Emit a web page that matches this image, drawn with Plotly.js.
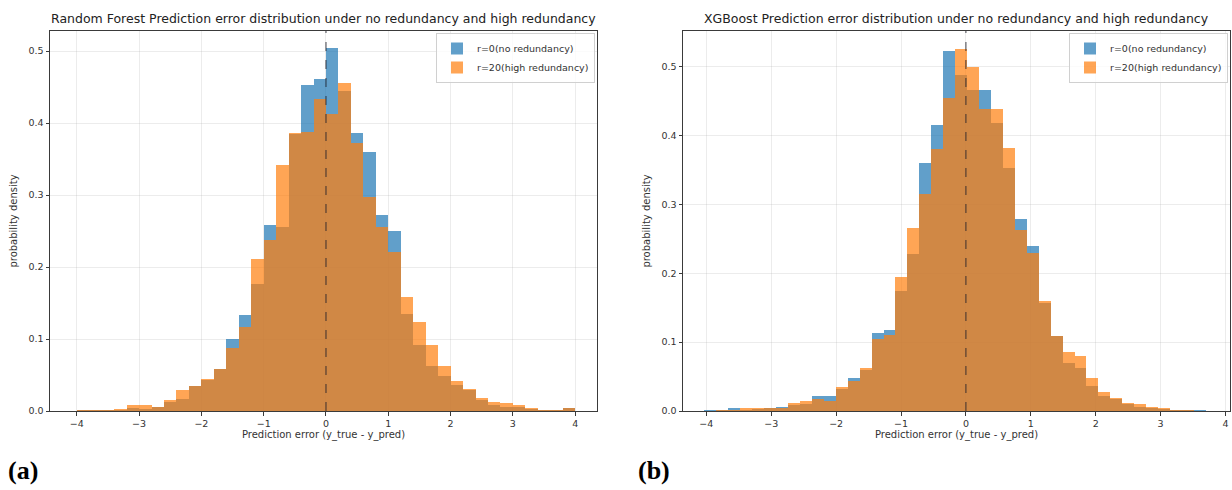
<!DOCTYPE html>
<html>
<head>
<meta charset="utf-8">
<script src="https://cdn.plot.ly/plotly-3.0.1.min.js"></script>
<style>html,body{margin:0;padding:0;background:#fff;}#chart{width:1232px;height:490px;}</style>
</head>
<body>
<div id="chart"></div>
<script>
// ---- Random Forest (left) : shared bins, width 0.2 from -4.0 ----
const rfBinStart = -4.0;
const rfBinWidth = 0.2;
const rfNoRed = [0.002,0.001,0.001,0.002,0.004,0.003,0.005,0.013,0.016,0.035,
                 0.043,0.059,0.100,0.133,0.176,0.258,0.256,0.385,0.453,0.461,
                 0.504,0.445,0.386,0.360,0.272,0.250,0.135,0.092,0.062,0.048,
                 0.036,0.029,0.015,0.008,0.006,0.005,0.003,0.002,0.002,0.004];
const rfHighRed = [0.002,0.001,0.001,0.003,0.009,0.009,0.005,0.015,0.029,0.035,
                   0.045,0.059,0.087,0.117,0.211,0.238,0.342,0.386,0.388,0.434,
                   0.412,0.456,0.372,0.298,0.256,0.221,0.159,0.124,0.092,0.062,
                   0.041,0.031,0.018,0.013,0.011,0.008,0.004,0.001,0.001,0.004];

// ---- XGBoost (right) : bins width 0.184 from -4.03 ----
const xgbBinStart = -4.03;
const xgbBinWidth = 0.184;
const xgbNoRed = [0.001,0.001,0.004,0.001,0.003,0.005,0.006,0.008,0.010,0.022,
                  0.022,0.032,0.048,0.060,0.113,0.117,0.175,0.228,0.360,0.415,
                  0.523,0.488,0.466,0.466,0.418,0.353,0.279,0.240,0.157,0.109,
                  0.070,0.063,0.036,0.022,0.017,0.010,0.006,0.005,0.003,0.002,
                  0.001,0.001];
const xgbHighRed = [0.000,0.001,0.002,0.004,0.005,0.005,0.005,0.011,0.015,0.017,
                    0.015,0.035,0.043,0.063,0.105,0.110,0.195,0.266,0.315,0.380,
                    0.455,0.526,0.500,0.438,0.438,0.382,0.263,0.229,0.160,0.109,
                    0.085,0.080,0.048,0.027,0.019,0.012,0.010,0.006,0.005,0.002,
                    0.001,0.000];

const xTicks = [-4,-3,-2,-1,0,1,2,3,4];
const xTickText = ['\u22124','\u22123','\u22122','\u22121','0','1','2','3','4'];
const yTicks = [0,0.1,0.2,0.3,0.4,0.5];
const seriesNames = ['r=0(no redundancy)','r=20(high redundancy)'];
const titles = ['Random Forest Prediction error distribution under no redundancy and high redundancy',
                'XGBoost Prediction error distribution under no redundancy and high redundancy'];
const xLabel = 'Prediction error (y_true - y_pred)';
const yLabel = 'probability density';
const panelLabels = ['(a)','(b)'];

function centers(start, w, n){ const c=[]; for(let i=0;i<n;i++) c.push(start + w*(i+0.5)); return c; }

const BLUE = '#1f77b4', ORANGE = '#ff7f0e';
function barTrace(vals, start, w, name, color, xa, ya, leg, show){
  return {type:'bar', x:centers(start,w,vals.length), y:vals, width:w, name:name,
          marker:{color:color, line:{width:0}}, opacity:0.7, xaxis:xa, yaxis:ya,
          legend:leg, showlegend:show, hoverinfo:'x+y'};
}
const data = [
  barTrace(rfNoRed, rfBinStart, rfBinWidth, seriesNames[0], BLUE, 'x','y','legend',true),
  barTrace(rfHighRed, rfBinStart, rfBinWidth, seriesNames[1], ORANGE, 'x','y','legend',true),
  barTrace(xgbNoRed, xgbBinStart, xgbBinWidth, seriesNames[0], BLUE, 'x2','y2','legend2',true),
  barTrace(xgbHighRed, xgbBinStart, xgbBinWidth, seriesNames[1], ORANGE, 'x2','y2','legend2',true)
];

const W=1232, H=490;
const font = 'DejaVu Sans, sans-serif';
function xax(d0,d1,range,anchor){
  return {domain:[d0/W,d1/W], range:range, anchor:anchor, tickvals:xTicks, ticktext:xTickText,
    showline:true, mirror:true, linecolor:'#3a3a3a', linewidth:1, ticks:'outside', ticklen:3.5, tickcolor:'#3a3a3a',
    showgrid:true, gridcolor:'rgba(176,176,176,0.3)', gridwidth:0.8, zeroline:false,
    tickfont:{family:font,size:9.5,color:'#333'},
    title:{text:xLabel, font:{family:font,size:10,color:'#333'}, standoff:3}};
}
function yax(range,anchor){
  return {domain:[(H-411)/H,(H-31)/H], range:range, anchor:anchor, tickvals:yTicks, tickformat:'.1f',
    showline:true, mirror:true, linecolor:'#3a3a3a', linewidth:1, ticks:'outside', ticklen:3.5, tickcolor:'#3a3a3a',
    showgrid:true, gridcolor:'rgba(176,176,176,0.3)', gridwidth:0.8, zeroline:false,
    tickfont:{family:font,size:9.5,color:'#333'},
    title:{text:yLabel, font:{family:font,size:10,color:'#333'}, standoff:8}};
}
const legStyle = {bgcolor:'rgba(255,255,255,0.8)', bordercolor:'#d0d0d0', borderwidth:1,
  font:{family:font,size:9.5,color:'#333'}, yanchor:'top', xanchor:'right', itemwidth:30, tracegroupgap:0};

const layout = {
  width:W, height:H, margin:{l:0,r:0,t:0,b:0}, paper_bgcolor:'#fff', plot_bgcolor:'#fff',
  barmode:'overlay', bargap:0,
  xaxis: xax(50,597,[-4.43,4.35],'y'),
  yaxis: yax([0,0.528],'x'),
  xaxis2: xax(683,1230,[-4.36,4.07],'y2'),
  yaxis2: yax([0,0.552],'x2'),
  legend: Object.assign({x:595/W, y:(H-33)/H}, legStyle),
  legend2: Object.assign({x:1228/W, y:(H-33)/H}, legStyle),
  shapes:[
    {type:'line', xref:'x', yref:'y domain', x0:0, x1:0, y0:0, y1:1, layer:'above',
     line:{color:'rgba(30,30,40,0.75)', width:1.1, dash:'dash'}},
    {type:'line', xref:'x2', yref:'y2 domain', x0:0, x1:0, y0:0, y1:1, layer:'above',
     line:{color:'rgba(30,30,40,0.75)', width:1.1, dash:'dash'}}
  ],
  annotations:[
    {text:titles[0], xref:'paper', yref:'paper', x:(50+597)/2/W, y:(H-18)/H, showarrow:false,
     xanchor:'center', yanchor:'middle', font:{family:font,size:12.5,color:'#222'}},
    {text:titles[1], xref:'paper', yref:'paper', x:(683+1230)/2/W, y:(H-18)/H, showarrow:false,
     xanchor:'center', yanchor:'middle', font:{family:font,size:12.5,color:'#222'}},
    {text:'<b>'+panelLabels[0]+'</b>', xref:'paper', yref:'paper', x:6/W, y:(H-470)/H, showarrow:false,
     xanchor:'left', yanchor:'middle', font:{family:'Liberation Serif, serif',size:26,color:'#000'}},
    {text:'<b>'+panelLabels[1]+'</b>', xref:'paper', yref:'paper', x:636/W, y:(H-470)/H, showarrow:false,
     xanchor:'left', yanchor:'middle', font:{family:'Liberation Serif, serif',size:26,color:'#000'}}
  ]
};
Plotly.newPlot('chart', data, layout, {staticPlot:true, displayModeBar:false});
</script>
</body>
</html>
